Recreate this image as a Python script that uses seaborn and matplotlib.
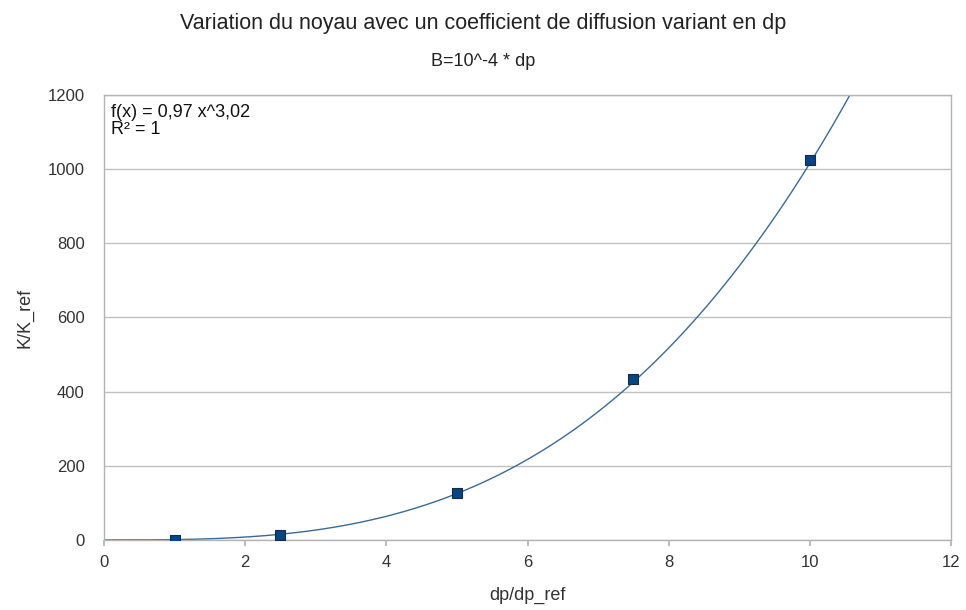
import matplotlib
matplotlib.use("Agg")
import matplotlib.pyplot as plt
import numpy as np
import pandas as pd
import seaborn as sns

# data
dp_ratio = [1, 2.5, 5, 7.5, 10]
k_ratio = [1, 14, 127, 435, 1024]

# trend line as shown on the chart: f(x) = 0,97 x^3,02
coef_a = 0.97
coef_b = 3.02

x_ticks = [0, 2, 4, 6, 8, 10, 12]
y_ticks = [0, 200, 400, 600, 800, 1000, 1200]

sns.set_theme(style="white")
plt.rcParams['font.family'] = ['Liberation Sans', 'DejaVu Sans']

df = pd.DataFrame({"dp/dp_ref": dp_ratio, "K/K_ref": k_ratio})

fig = plt.figure(figsize=(9.66, 6.10), dpi=100)
ax = fig.add_axes([0.1077, 0.1148, 0.8768, 0.7295])

# trend line
xs = np.linspace(0, 12, 400)
trend = pd.DataFrame({"x": xs, "y": coef_a * xs ** coef_b})
sns.lineplot(data=trend, x="x", y="y", ax=ax, color="#3b6a94", linewidth=1.0, zorder=2)

# data points
sns.scatterplot(data=df, x="dp/dp_ref", y="K/K_ref", ax=ax, marker="s", s=60,
                color="#004586", edgecolor="#1c2a3a", linewidth=0.8, zorder=3)

ax.set_xlim(0, 12)
ax.set_ylim(0, 1200)
ax.set_xticks(x_ticks)
ax.set_yticks(y_ticks)
ax.yaxis.grid(True, color="#c0c0c0", linewidth=1.0)
ax.set_axisbelow(True)
for side in ax.spines.values():
    side.set_color("#b3b3b3")
    side.set_linewidth(1.0)
ax.tick_params(axis="x", which="both", bottom=True, length=4, color="#b3b3b3",
               labelsize=12, labelcolor="#333333", pad=7)
ax.tick_params(axis="y", left=False, labelsize=12, labelcolor="#333333", pad=8)

ax.set_xlabel("dp/dp_ref", fontsize=13, color="#333333", labelpad=12)
ax.set_ylabel("K/K_ref", fontsize=13, color="#333333", labelpad=10)

ax.text(0.1, 1175, "f(x) = 0,97 x^3,02\nR² = 1", fontsize=13, color="#111111",
        va="top", ha="left", linespacing=1.0)

fig.text(0.5, 0.962, "Variation du noyau avec un coefficient de diffusion variant en dp",
         ha="center", va="center", fontsize=15.5, color="#222222")
fig.text(0.5, 0.900, "B=10^-4 * dp", ha="center", va="center", fontsize=13, color="#222222")

fig.savefig("out.png", dpi=100)
